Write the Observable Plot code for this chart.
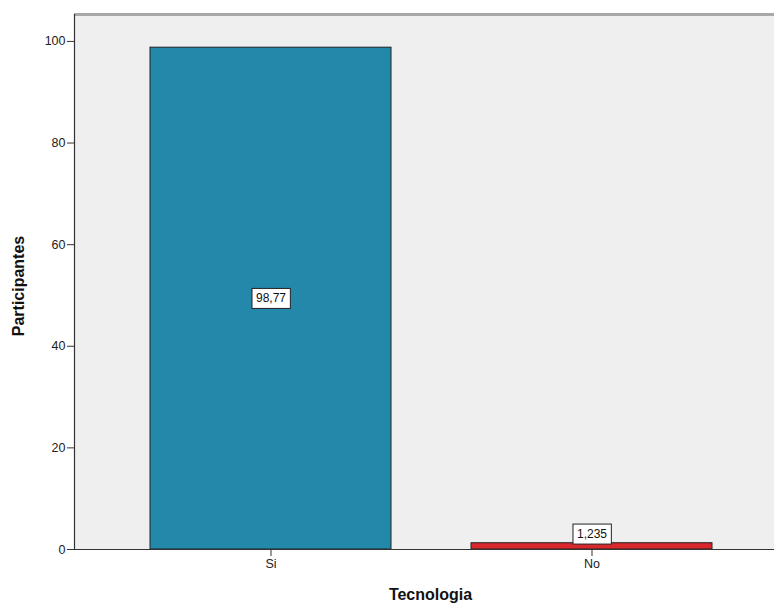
<!DOCTYPE html>
<html>
<head>
<meta charset="utf-8">
<script src="https://cdn.jsdelivr.net/npm/d3@7"></script>
<script src="https://cdn.jsdelivr.net/npm/@observablehq/plot@0.6"></script>
<style>
  html, body { margin: 0; padding: 0; background: #fff; }
  #chart svg { display: block; }
</style>
</head>
<body>
<div id="chart"></div>
<script>
const categories = ["Si", "No"];
const values = [98.77, 1.235];
const valueLabels = ["98,77", "1,235"];
const barColors = ["#2388aa", "#d9282c"];
const yTicks = [0, 20, 40, 60, 80, 100];

const data = categories.map((c, i) => ({cat: c, value: values[i], label: valueLabels[i], color: barColors[i]}));
const yMax = 105.3;
const font = "'Liberation Sans', Arial, sans-serif";

const chart = Plot.plot({
  width: 774,
  height: 608,
  marginLeft: 74,
  marginRight: 0,
  marginTop: 14,
  marginBottom: 59,
  style: {fontFamily: font, fontSize: "12.5px", color: "#222", background: "#fff", overflow: "visible"},
  x: {domain: categories, range: [110, 752], paddingInner: 0.25, paddingOuter: 0.125, label: null},
  y: {domain: [0, yMax], label: null},
  marks: [
    Plot.frame({fill: "#efefef", stroke: "none"}),
    Plot.barY(data, {x: "cat", y: "value", fill: "color", stroke: "#222", strokeWidth: 1}),
    Plot.ruleY([yMax], {stroke: "#a8a8a8", strokeWidth: 3}),
    Plot.ruleY([0], {stroke: "#333", strokeWidth: 1.2}),
    Plot.frame({anchor: "left", stroke: "#333", strokeWidth: 1.2}),
    Plot.axisY({ticks: yTicks, tickSize: 7, tickPadding: 2, tickFormat: d => d, fontSize: 12.5, stroke: "#333", label: null}),
    Plot.axisX({tickSize: 7, tickPadding: 3, fontSize: 12.5, stroke: "#333", label: null}),
    Plot.text(data.filter(d => d.cat === "Si"), {x: "cat", y: d => d.value / 2, text: "label", fontSize: 12, fill: "#111", className: "boxlabel"}),
    Plot.text(data.filter(d => d.cat === "No"), {x: "cat", y: "value", dy: -9, text: "label", fontSize: 12, fill: "#111", className: "boxlabel"}),
    Plot.text(["Participantes"], {frameAnchor: "left", dx: -56, dy: 4, rotate: -90, textAnchor: "middle", text: d => d, fontSize: 16, fontWeight: "bold", fill: "#111", letterSpacing: "1px"}),
    Plot.text(["Tecnologia"], {frameAnchor: "bottom", dx: 6, dy: 50, text: d => d, fontSize: 16, fontWeight: "bold", fill: "#111", letterSpacing: "2.6px"})
  ]
});

document.getElementById("chart").appendChild(chart);

// add white boxes behind the value labels
chart.querySelectorAll("g.boxlabel text").forEach(t => {
  const b = t.getBBox();
  const r = document.createElementNS("http://www.w3.org/2000/svg", "rect");
  r.setAttribute("x", b.x - 4);
  r.setAttribute("y", b.y - 3);
  r.setAttribute("width", b.width + 8);
  r.setAttribute("height", b.height + 6);
  r.setAttribute("fill", "#fff");
  r.setAttribute("stroke", "#222");
  r.setAttribute("stroke-width", "1");
  const tr = t.getAttribute("transform");
  if (tr) r.setAttribute("transform", tr);
  t.parentNode.insertBefore(r, t);
});
</script>
</body>
</html>
